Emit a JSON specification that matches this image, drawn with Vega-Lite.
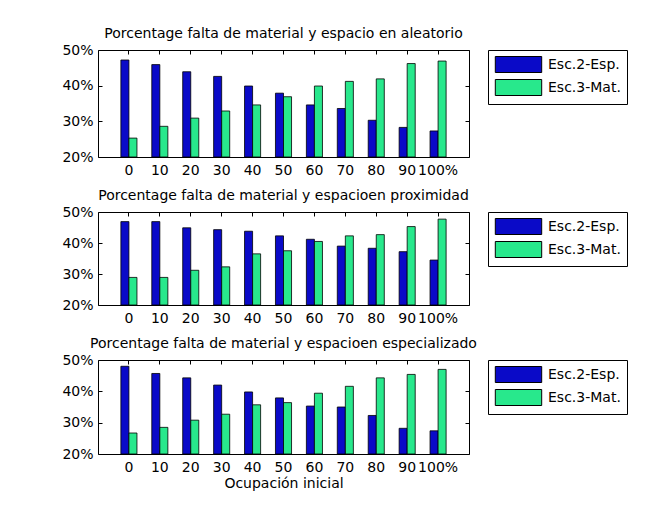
{
  "$schema": "https://vega.github.io/schema/vega-lite/v6.json",
  "background": "white",
  "padding": {"left": 61, "top": 26, "right": 5, "bottom": 5},
  "config": {
    "font": "DejaVu Sans",
    "view": {"stroke": "#000", "strokeWidth": 1},
    "axis": {"labelFont": "DejaVu Sans", "labelFontSize": 14, "labelColor": "#000", "tickColor": "#000", "domain": false, "grid": false, "titleFont": "DejaVu Sans", "titleFontWeight": "normal", "titleFontSize": 14, "titleColor": "#000"},
    "title": {"font": "DejaVu Sans", "fontSize": 14, "fontWeight": "normal", "color": "#000", "offset": 2, "baseline": "alphabetic"},
    "legend": {"orient": "right", "offset": 18, "padding": 6, "strokeColor": "#000", "fillColor": "#fff", "labelFont": "DejaVu Sans", "labelFontSize": 14, "labelColor": "#000", "symbolType": "M-2.9,-1H2.9V1H-2.9Z", "symbolSize": 256, "symbolStrokeColor": "#000", "symbolStrokeWidth": 1, "symbolOpacity": 1, "rowPadding": 2, "symbolOffset": 16, "labelOffset": 21},
    "concat": {"spacing": 10}
  },
  "data": {"values": [
    {"panel": "a", "occ": "0", "series": "Esc.2-Esp.", "value": 47.2},
    {"panel": "a", "occ": "10", "series": "Esc.2-Esp.", "value": 45.9},
    {"panel": "a", "occ": "20", "series": "Esc.2-Esp.", "value": 43.9},
    {"panel": "a", "occ": "30", "series": "Esc.2-Esp.", "value": 42.6},
    {"panel": "a", "occ": "40", "series": "Esc.2-Esp.", "value": 39.9},
    {"panel": "a", "occ": "50", "series": "Esc.2-Esp.", "value": 37.9},
    {"panel": "a", "occ": "60", "series": "Esc.2-Esp.", "value": 34.6},
    {"panel": "a", "occ": "70", "series": "Esc.2-Esp.", "value": 33.6},
    {"panel": "a", "occ": "80", "series": "Esc.2-Esp.", "value": 30.3},
    {"panel": "a", "occ": "90", "series": "Esc.2-Esp.", "value": 28.3},
    {"panel": "a", "occ": "100%", "series": "Esc.2-Esp.", "value": 27.3},
    {"panel": "a", "occ": "0", "series": "Esc.3-Mat.", "value": 25.3},
    {"panel": "a", "occ": "10", "series": "Esc.3-Mat.", "value": 28.6},
    {"panel": "a", "occ": "20", "series": "Esc.3-Mat.", "value": 30.9},
    {"panel": "a", "occ": "30", "series": "Esc.3-Mat.", "value": 32.9},
    {"panel": "a", "occ": "40", "series": "Esc.3-Mat.", "value": 34.6},
    {"panel": "a", "occ": "50", "series": "Esc.3-Mat.", "value": 36.9},
    {"panel": "a", "occ": "60", "series": "Esc.3-Mat.", "value": 39.9},
    {"panel": "a", "occ": "70", "series": "Esc.3-Mat.", "value": 41.2},
    {"panel": "a", "occ": "80", "series": "Esc.3-Mat.", "value": 41.9},
    {"panel": "a", "occ": "90", "series": "Esc.3-Mat.", "value": 46.2},
    {"panel": "a", "occ": "100%", "series": "Esc.3-Mat.", "value": 46.9},
    {"panel": "b", "occ": "0", "series": "Esc.2-Esp.", "value": 46.9},
    {"panel": "b", "occ": "10", "series": "Esc.2-Esp.", "value": 46.9},
    {"panel": "b", "occ": "20", "series": "Esc.2-Esp.", "value": 44.9},
    {"panel": "b", "occ": "30", "series": "Esc.2-Esp.", "value": 44.3},
    {"panel": "b", "occ": "40", "series": "Esc.2-Esp.", "value": 43.8},
    {"panel": "b", "occ": "50", "series": "Esc.2-Esp.", "value": 42.3},
    {"panel": "b", "occ": "60", "series": "Esc.2-Esp.", "value": 41.2},
    {"panel": "b", "occ": "70", "series": "Esc.2-Esp.", "value": 39.0},
    {"panel": "b", "occ": "80", "series": "Esc.2-Esp.", "value": 38.3},
    {"panel": "b", "occ": "90", "series": "Esc.2-Esp.", "value": 37.2},
    {"panel": "b", "occ": "100%", "series": "Esc.2-Esp.", "value": 34.5},
    {"panel": "b", "occ": "0", "series": "Esc.3-Mat.", "value": 28.9},
    {"panel": "b", "occ": "10", "series": "Esc.3-Mat.", "value": 28.9},
    {"panel": "b", "occ": "20", "series": "Esc.3-Mat.", "value": 31.2},
    {"panel": "b", "occ": "30", "series": "Esc.3-Mat.", "value": 32.3},
    {"panel": "b", "occ": "40", "series": "Esc.3-Mat.", "value": 36.5},
    {"panel": "b", "occ": "50", "series": "Esc.3-Mat.", "value": 37.5},
    {"panel": "b", "occ": "60", "series": "Esc.3-Mat.", "value": 40.5},
    {"panel": "b", "occ": "70", "series": "Esc.3-Mat.", "value": 42.3},
    {"panel": "b", "occ": "80", "series": "Esc.3-Mat.", "value": 42.7},
    {"panel": "b", "occ": "90", "series": "Esc.3-Mat.", "value": 45.3},
    {"panel": "b", "occ": "100%", "series": "Esc.3-Mat.", "value": 47.7},
    {"panel": "c", "occ": "0", "series": "Esc.2-Esp.", "value": 48.0},
    {"panel": "c", "occ": "10", "series": "Esc.2-Esp.", "value": 45.7},
    {"panel": "c", "occ": "20", "series": "Esc.2-Esp.", "value": 44.3},
    {"panel": "c", "occ": "30", "series": "Esc.2-Esp.", "value": 42.0},
    {"panel": "c", "occ": "40", "series": "Esc.2-Esp.", "value": 39.8},
    {"panel": "c", "occ": "50", "series": "Esc.2-Esp.", "value": 37.9},
    {"panel": "c", "occ": "60", "series": "Esc.2-Esp.", "value": 35.3},
    {"panel": "c", "occ": "70", "series": "Esc.2-Esp.", "value": 35.0},
    {"panel": "c", "occ": "80", "series": "Esc.2-Esp.", "value": 32.3},
    {"panel": "c", "occ": "90", "series": "Esc.2-Esp.", "value": 28.2},
    {"panel": "c", "occ": "100%", "series": "Esc.2-Esp.", "value": 27.4},
    {"panel": "c", "occ": "0", "series": "Esc.3-Mat.", "value": 26.7},
    {"panel": "c", "occ": "10", "series": "Esc.3-Mat.", "value": 28.5},
    {"panel": "c", "occ": "20", "series": "Esc.3-Mat.", "value": 30.8},
    {"panel": "c", "occ": "30", "series": "Esc.3-Mat.", "value": 32.7},
    {"panel": "c", "occ": "40", "series": "Esc.3-Mat.", "value": 35.7},
    {"panel": "c", "occ": "50", "series": "Esc.3-Mat.", "value": 36.4},
    {"panel": "c", "occ": "60", "series": "Esc.3-Mat.", "value": 39.4},
    {"panel": "c", "occ": "70", "series": "Esc.3-Mat.", "value": 41.6},
    {"panel": "c", "occ": "80", "series": "Esc.3-Mat.", "value": 44.3},
    {"panel": "c", "occ": "90", "series": "Esc.3-Mat.", "value": 45.4},
    {"panel": "c", "occ": "100%", "series": "Esc.3-Mat.", "value": 47.0}
  ]},
  "vconcat": [
    {
      "title": "Porcentage falta de material y espacio en aleatorio",
      "width": 371, "height": 107,
      "transform": [{"filter": "datum.panel == 'a'"}],
      "layer": [
        {
          "mark": {"type": "bar", "stroke": "#000", "strokeWidth": 0.8},
          "encoding": {
            "x": {"field": "occ", "type": "nominal", "sort": ["0", "10", "20", "30", "40", "50", "60", "70", "80", "90", "100%"], "scale": {"paddingInner": 0.48, "paddingOuter": 0.74}, "axis": {"title": null, "labelAngle": 0, "tickSize": -4, "labelPadding": 10}},
            "xOffset": {"field": "series", "type": "nominal", "scale": {"paddingInner": 0, "paddingOuter": 0}},
            "y": {"field": "value", "type": "quantitative", "scale": {"domain": [20, 50], "zero": false, "nice": false}, "axis": {"values": [20, 30, 40, 50], "labelExpr": "datum.value + '%'", "title": null, "tickSize": -4, "labelPadding": 9}},
            "y2": {"datum": 20},
            "color": {"field": "series", "type": "nominal", "scale": {"domain": ["Esc.2-Esp.", "Esc.3-Mat."], "range": ["#0A0AC8", "#28E88C"]}, "legend": {"title": null}}
          }
        },
        {
          "mark": {"type": "bar", "opacity": 0},
          "encoding": {
            "x": {"field": "occ", "type": "nominal", "sort": ["0", "10", "20", "30", "40", "50", "60", "70", "80", "90", "100%"], "axis": {"orient": "top", "title": null, "labels": false, "tickSize": -4, "maxExtent": 0, "minExtent": 0}},
            "xOffset": {"field": "series", "type": "nominal"},
            "y": {"field": "value", "type": "quantitative", "axis": {"orient": "right", "values": [20, 30, 40, 50], "title": null, "labels": false, "tickSize": -4, "maxExtent": 0, "minExtent": 0}},
            "y2": {"datum": 20}
          }
        }
      ],
      "resolve": {"axis": {"x": "independent", "y": "independent"}}
    },
    {
      "title": "Porcentage falta de material y espacioen proximidad",
      "width": 371, "height": 93,
      "transform": [{"filter": "datum.panel == 'b'"}],
      "layer": [
        {
          "mark": {"type": "bar", "stroke": "#000", "strokeWidth": 0.8},
          "encoding": {
            "x": {"field": "occ", "type": "nominal", "sort": ["0", "10", "20", "30", "40", "50", "60", "70", "80", "90", "100%"], "scale": {"paddingInner": 0.48, "paddingOuter": 0.74}, "axis": {"title": null, "labelAngle": 0, "tickSize": -4, "labelPadding": 10}},
            "xOffset": {"field": "series", "type": "nominal", "scale": {"paddingInner": 0, "paddingOuter": 0}},
            "y": {"field": "value", "type": "quantitative", "scale": {"domain": [20, 50], "zero": false, "nice": false}, "axis": {"values": [20, 30, 40, 50], "labelExpr": "datum.value + '%'", "title": null, "tickSize": -4, "labelPadding": 9}},
            "y2": {"datum": 20},
            "color": {"field": "series", "type": "nominal", "scale": {"domain": ["Esc.2-Esp.", "Esc.3-Mat."], "range": ["#0A0AC8", "#28E88C"]}, "legend": {"title": null}}
          }
        },
        {
          "mark": {"type": "bar", "opacity": 0},
          "encoding": {
            "x": {"field": "occ", "type": "nominal", "sort": ["0", "10", "20", "30", "40", "50", "60", "70", "80", "90", "100%"], "axis": {"orient": "top", "title": null, "labels": false, "tickSize": -4, "maxExtent": 0, "minExtent": 0}},
            "xOffset": {"field": "series", "type": "nominal"},
            "y": {"field": "value", "type": "quantitative", "axis": {"orient": "right", "values": [20, 30, 40, 50], "title": null, "labels": false, "tickSize": -4, "maxExtent": 0, "minExtent": 0}},
            "y2": {"datum": 20}
          }
        }
      ],
      "resolve": {"axis": {"x": "independent", "y": "independent"}}
    },
    {
      "title": "Porcentage falta de material y espacioen especializado",
      "width": 371, "height": 94,
      "transform": [{"filter": "datum.panel == 'c'"}],
      "layer": [
        {
          "mark": {"type": "bar", "stroke": "#000", "strokeWidth": 0.8},
          "encoding": {
            "x": {"field": "occ", "type": "nominal", "sort": ["0", "10", "20", "30", "40", "50", "60", "70", "80", "90", "100%"], "scale": {"paddingInner": 0.48, "paddingOuter": 0.74}, "axis": {"title": "Ocupación inicial", "titlePadding": 2, "labelAngle": 0, "tickSize": -4, "labelPadding": 10}},
            "xOffset": {"field": "series", "type": "nominal", "scale": {"paddingInner": 0, "paddingOuter": 0}},
            "y": {"field": "value", "type": "quantitative", "scale": {"domain": [20, 50], "zero": false, "nice": false}, "axis": {"values": [20, 30, 40, 50], "labelExpr": "datum.value + '%'", "title": null, "tickSize": -4, "labelPadding": 9}},
            "y2": {"datum": 20},
            "color": {"field": "series", "type": "nominal", "scale": {"domain": ["Esc.2-Esp.", "Esc.3-Mat."], "range": ["#0A0AC8", "#28E88C"]}, "legend": {"title": null}}
          }
        },
        {
          "mark": {"type": "bar", "opacity": 0},
          "encoding": {
            "x": {"field": "occ", "type": "nominal", "sort": ["0", "10", "20", "30", "40", "50", "60", "70", "80", "90", "100%"], "axis": {"orient": "top", "title": null, "labels": false, "tickSize": -4, "maxExtent": 0, "minExtent": 0}},
            "xOffset": {"field": "series", "type": "nominal"},
            "y": {"field": "value", "type": "quantitative", "axis": {"orient": "right", "values": [20, 30, 40, 50], "title": null, "labels": false, "tickSize": -4, "maxExtent": 0, "minExtent": 0}},
            "y2": {"datum": 20}
          }
        }
      ],
      "resolve": {"axis": {"x": "independent", "y": "independent"}}
    }
  ],
  "resolve": {"scale": {"color": "independent"}, "legend": {"color": "independent"}}
}
